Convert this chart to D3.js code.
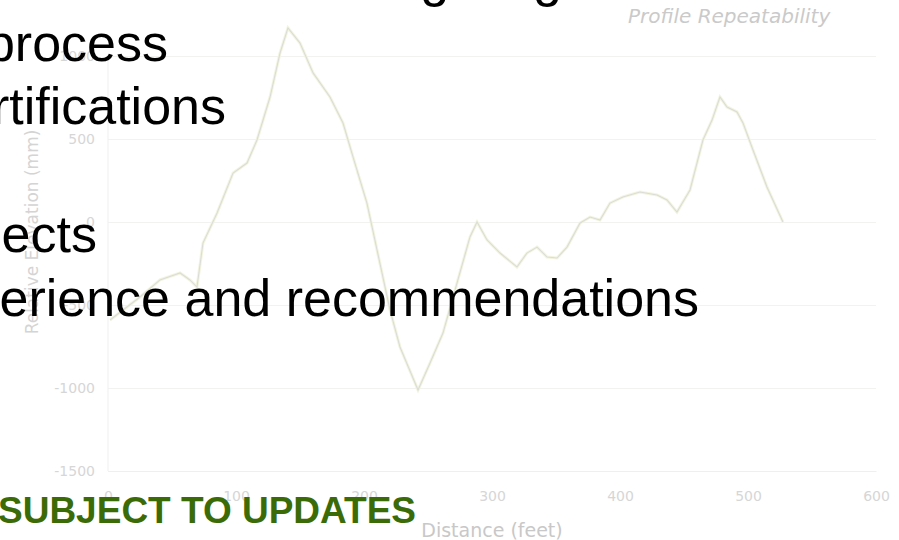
<!DOCTYPE html>
<html>
<head>
<meta charset="utf-8">
<script src="https://cdn.jsdelivr.net/npm/d3@7"></script>
<style>
  body { margin: 0; background: #fff; }
  svg { display: block; }
</style>
</head>
<body>
<script>
// profile readings: distance (feet) / relative elevation (mm)
var distance = [1.6, 25, 40.6, 56.3, 64, 69.5, 74.2, 85.2, 97.7, 108.6, 116.4, 126.6, 134.4, 140.6,
  150, 160.2, 173.4, 183.6, 191.4, 202.3, 210.2, 220.3, 228.1, 242.2, 251.6, 261.7, 272.7, 282.8,
  288.3, 296.1, 306.3, 319.5, 327.3, 335.2, 343, 350.8, 358.6, 368.8, 376.6, 384.4, 392.2, 402.3,
  415.6, 428.9, 436.7, 444.5, 454.7, 464.8, 471.9, 478.1, 483.6, 491.4, 496.1, 503.9, 514.8, 527.3];
var elevation = [-590, -452, -349, -307, -349, -392, -127, 54, 295, 355, 494, 753, 1018, 1169,
  1078, 898, 753, 596, 392, 114, -169, -530, -753, -1012, -849, -669, -367, -90,
  0, -108, -187, -271, -187, -151, -211, -217, -151, -6, 30, 12, 114, 151,
  181, 163, 133, 60, 193, 494, 614, 753, 693, 663, 596, 434, 211, 0];

var xTicks = [0, 100, 200, 300, 400, 500, 600];
var yTicks = [-1500, -1000, -500, 0, 500, 1000];

// slide text lying over the chart
var slideLines = ["Smoothness testing long", "Profiler certification process",
  "Annual certifications", "", "Recent projects", "Lessons experience and recommendations"];
var slideBaselines = [-4, 61, 124, 188, 252, 316];
var slideRight = [562, 168, 226, 0, 97, 699];
var footer = "SUBJECT TO UPDATES";

var width = 899, height = 540;

var svg = d3.select("body")
    .append("svg")
    .attr("width", width)
    .attr("height", height);

var x = d3.scaleLinear().domain([0, 600]).range([108, 876]);
var y = d3.scaleLinear().domain([-1500, 1000]).range([471, 56]);

// gridlines + y labels
var gy = svg.append("g")
    .attr("transform", "translate(108,0)")
    .style("font", "14px 'DejaVu Sans'")
    .call(d3.axisLeft(y).tickValues(yTicks).tickSize(-768).tickPadding(13)
        .tickFormat(d => String(d)));
gy.select(".domain").remove();
gy.selectAll("line").attr("stroke", "#f2f2f0");
gy.selectAll("text").attr("fill", "#d6d6d6");

// y axis line
svg.append("line")
    .attr("x1", x(0)).attr("x2", x(0))
    .attr("y1", y(1000)).attr("y2", y(-1500))
    .attr("stroke", "#efefef");

// x labels
var gx = svg.append("g")
    .attr("transform", "translate(0," + y(-1500) + ")")
    .style("font", "14px 'DejaVu Sans'")
    .call(d3.axisBottom(x).tickValues(xTicks).tickSize(0).tickPadding(20)
        .tickFormat(d => String(d)));
gx.select(".domain").attr("stroke", "#efefef");
gx.selectAll("text").attr("fill", "#d6d6d6");

// the profile runs (faded)
var pts = distance.map((d, i) => [d, elevation[i]]);
var line = d3.line().x(d => x(d[0])).y(d => y(d[1]));

svg.append("path")
    .datum(pts)
    .attr("fill", "none")
    .attr("stroke", "#f3f5e1")
    .attr("stroke-width", 3)
    .attr("d", line);
svg.append("path")
    .datum(pts)
    .attr("fill", "none")
    .attr("stroke", "#dcdcd8")
    .attr("stroke-width", 1.1)
    .attr("d", line);

// chart title and axis titles
svg.append("text")
    .attr("x", 628).attr("y", 23)
    .attr("fill", "#cacaca")
    .style("font", "italic 20px 'DejaVu Sans'")
    .text("Profile Repeatability");

svg.append("text")
    .attr("x", x(300)).attr("y", 537)
    .attr("text-anchor", "middle")
    .attr("fill", "#c8c8c8")
    .style("font", "19px 'DejaVu Sans'")
    .text("Distance (feet)");

svg.append("text")
    .attr("transform", "translate(38,232) rotate(-90)")
    .attr("text-anchor", "middle")
    .attr("fill", "#d4d4d4")
    .style("font", "17px 'DejaVu Sans'")
    .text("Relative Elevation (mm)");

// slide bullets on top
svg.append("g")
    .selectAll("text")
    .data(slideLines)
    .enter().append("text")
    .attr("x", (d, i) => slideRight[i])
    .attr("y", (d, i) => slideBaselines[i])
    .attr("text-anchor", "end")
    .attr("fill", "#000")
    .style("font", "52px 'Liberation Sans', Arial, sans-serif")
    .text(d => d);

svg.append("text")
    .attr("x", -2).attr("y", 523)
    .attr("fill", "#3b6b06")
    .style("font", "bold 37px 'Liberation Sans', Arial, sans-serif")
    .text(footer);
</script>
</body>
</html>
